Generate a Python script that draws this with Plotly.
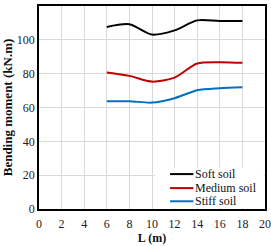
import plotly.graph_objects as go

L = [6, 8, 10, 12, 14, 16, 18]
soft = [107.6, 109.2, 103.1, 105.6, 111.5, 111.1, 111.1]
medium = [80.7, 78.7, 75.3, 77.7, 86.0, 86.8, 86.4]
stiff = [63.7, 63.7, 62.9, 65.5, 70.2, 71.4, 72.0]
names = ["Soft soil", "Medium soil", "Stiff soil"]
colors = ["#000000", "#c00000", "#0070c0"]

fig = go.Figure()
for name, ys, c in zip(names, [soft, medium, stiff], colors):
    fig.add_trace(go.Scatter(x=L, y=ys, name=name, mode="lines", showlegend=False,
                             line=dict(color=c, width=2, shape="spline", smoothing=0.8)))

font = "Times New Roman, Liberation Serif, serif"

# manual legend (white box, short lines, text)
shapes = [dict(type="rect", xref="paper", yref="paper", x0=0.513, x1=0.994, y0=0.006, y1=0.205,
               fillcolor="white", line=dict(width=0), layer="above")]
annotations = []
leg_y = [0.172, 0.103, 0.038]
for name, c, yy in zip(names, colors, leg_y):
    shapes.append(dict(type="line", xref="paper", yref="paper", x0=0.58, x1=0.683, y0=yy, y1=yy,
                       line=dict(color=c, width=2), layer="above"))
    annotations.append(dict(xref="paper", yref="paper", x=0.683, y=yy, xanchor="left", yanchor="middle",
                            text=name, showarrow=False, font=dict(family=font, size=12, color="#111")))

fig.update_layout(
    width=271, height=246,
    margin=dict(l=39, r=6, t=6, b=37),
    paper_bgcolor="white", plot_bgcolor="white",
    font=dict(family=font, size=12, color="#222"),
    showlegend=False,
    shapes=shapes, annotations=annotations,
    xaxis=dict(range=[0, 20], dtick=2, showgrid=True, gridcolor="#d9d9d9", gridwidth=1,
               showline=True, linecolor="black", linewidth=1.5, mirror=True,
               ticks="", zeroline=False, automargin=False, ticklabelstandoff=3,
               title=dict(text="<b>L (m)</b>", font=dict(family=font, size=12, color="#111"), standoff=2)),
    yaxis=dict(range=[0, 120], dtick=20, showgrid=True, gridcolor="#d9d9d9", gridwidth=1,
               showline=True, linecolor="black", linewidth=1.5, mirror=True,
               ticks="", zeroline=False, automargin=False,
               title=dict(text="<b>Bending moment (kN.m)</b>", font=dict(family=font, size=13, color="#111"), standoff=2)),
)
fig.write_html("out.html", config={"displayModeBar": False},
               post_script="document.body.style.margin='0';")
